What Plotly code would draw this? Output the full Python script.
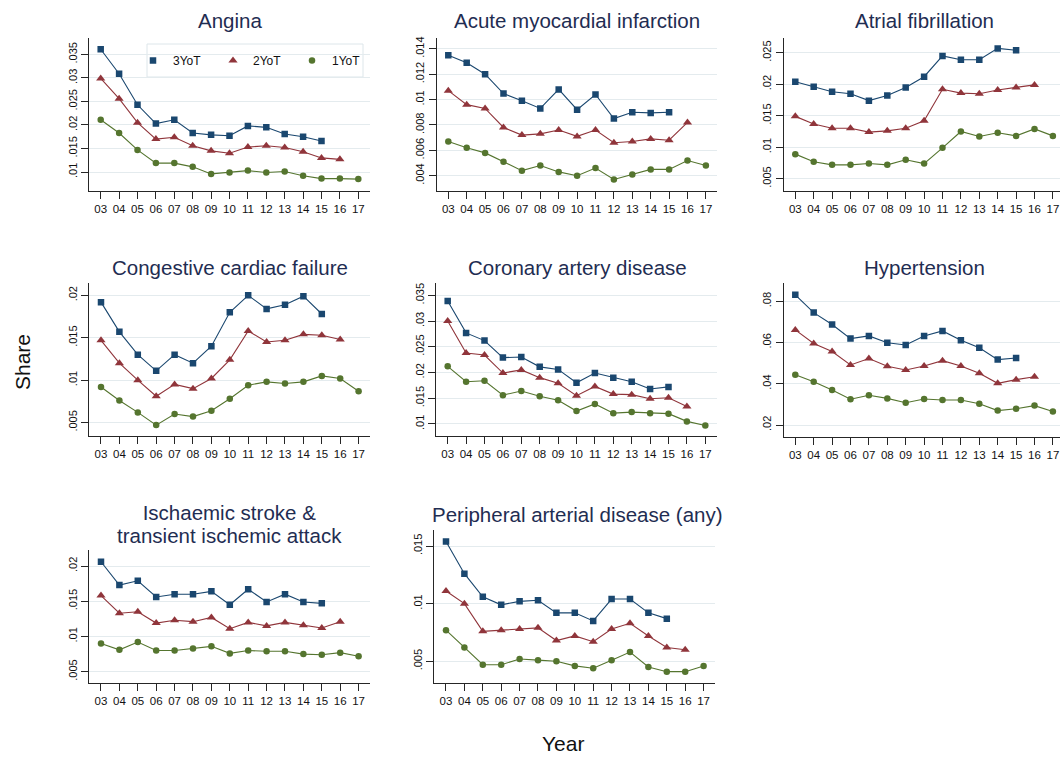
import plotly.graph_objects as go

# ---- data -------------------------------------------------------------
years = list(range(2003, 2018))
year_labels = ["03", "04", "05", "06", "07", "08", "09", "10",
               "11", "12", "13", "14", "15", "16", "17"]
series_names = ["3YoT", "2YoT", "1YoT"]

angina_3yot = [.0361, .0309, .0243, .0203, .0211, .0183, .0179, .0177, .0198, .0195, .0181, .0175, .0166]
angina_2yot = [.0299, .0256, .0205, .0170, .0174, .0156, .0145, .0140, .0153, .0156, .0152, .0143, .0130, .0127]
angina_1yot = [.0211, .0183, .0147, .0119, .0119, .0111, .0096, .0099, .0103, .0099, .0101, .0092, .0086, .0086, .0085]

ami_3yot = [.0135, .0129, .0120, .01047, .0099, .0093, .0108, .0092, .0104, .0085, .0090, .00895, .0090]
ami_2yot = [.0107, .0096, .0093, .0078, .0072, .0073, .0076, .0071, .0076, .0066, .0067, .0069, .0068, .0082]
ami_1yot = [.0067, .0062, .0058, .0051, .0044, .0048, .0043, .0040, .0046, .0037, .0041, .0045, .0045, .0052, .0048]

af_3yot = [.0204, .0196, .0188, .0185, .0174, .0182, .0195, .0212, .0245, .0239, .0239, .0257, .0254]
af_2yot = [.0149, .0137, .0130, .0130, .0124, .0126, .0130, .0142, .0192, .0186, .0185, .0191, .0195, .0199]
af_1yot = [.0089, .0077, .0072, .0072, .0074, .0072, .0080, .0074, .0099, .0125, .0117, .0123, .0118, .0129, .0118]

ccf_3yot = [.0192, .0157, .0130, .0111, .0130, .0120, .0140, .0180, .0200, .0184, .0189, .0199, .0178]
ccf_2yot = [.0147, .0120, .0100, .0081, .0095, .0090, .0102, .0124, .0158, .0145, .0147, .0154, .0153, .0148]
ccf_1yot = [.0092, .0076, .0062, .0047, .0060, .0057, .0064, .0078, .0094, .0098, .0096, .0098, .0105, .0102, .0087]

cad_3yot = [.0339, .0277, .0262, .0229, .0230, .0211, .0206, .0180, .0199, .0190, .0182, .0168, .0172]
cad_2yot = [.0300, .0238, .0234, .0199, .0205, .0190, .0179, .0155, .0173, .0158, .0157, .0149, .0151, .0134]
cad_1yot = [.0212, .0182, .0184, .0156, .0164, .0154, .0146, .0125, .0139, .0121, .0123, .0121, .0120, .0105, .0097]

htn_3yot = [.0831, .0745, .0687, .0619, .0632, .0599, .0588, .0632, .0656, .0611, .0574, .0517, .0525]
htn_2yot = [.0661, .0595, .0556, .0491, .0522, .0485, .0467, .0486, .0512, .0486, .0451, .0402, .0420, .0434]
htn_1yot = [.0444, .0410, .0370, .0325, .0344, .0329, .0308, .0326, .0321, .0321, .0303, .0270, .0279, .0294, .0265]

stroke_3yot = [.0206, .0173, .0179, .0156, .0160, .0160, .0164, .0145, .0167, .0149, .0160, .0149, .0147]
stroke_2yot = [.0158, .0133, .0135, .0119, .0123, .0121, .0127, .0111, .0120, .0115, .0120, .0116, .0112, .0121]
stroke_1yot = [.0090, .0081, .0092, .0080, .0080, .0083, .0086, .0076, .0080, .0079, .0079, .0075, .0074, .0077, .0072]

pad_3yot = [.0154, .0126, .0106, .0099, .0102, .0103, .0092, .0092, .0085, .0104, .0104, .0092, .0087]
pad_2yot = [.0111, .0100, .0076, .0077, .0078, .0079, .0068, .0072, .0067, .0078, .0083, .0072, .0062, .0060]
pad_1yot = [.0077, .0062, .0047, .0047, .0052, .0051, .0050, .0046, .0044, .0051, .0058, .0045, .0041, .0041, .0046]

panel_titles = ["Angina", "Acute myocardial infarction", "Atrial fibrillation",
                "Congestive cardiac failure", "Coronary artery disease", "Hypertension",
                ["Ischaemic stroke &", "transient ischemic attack"],
                "Peripheral arterial disease (any)"]

angina_ticks = [.01, .015, .02, .025, .03, .035]
ami_ticks = [.004, .006, .008, .01, .012, .014]
af_ticks = [.005, .01, .015, .02, .025]
ccf_ticks = [.005, .01, .015, .02]
cad_ticks = [.01, .015, .02, .025, .03, .035]
htn_ticks = [.02, .04, .06, .08]
stroke_ticks = [.005, .01, .015, .02]
pad_ticks = [.005, .01, .015]

panel_series = [
    (angina_3yot, angina_2yot, angina_1yot),
    (ami_3yot, ami_2yot, ami_1yot),
    (af_3yot, af_2yot, af_1yot),
    (ccf_3yot, ccf_2yot, ccf_1yot),
    (cad_3yot, cad_2yot, cad_1yot),
    (htn_3yot, htn_2yot, htn_1yot),
    (stroke_3yot, stroke_2yot, stroke_1yot),
    (pad_3yot, pad_2yot, pad_1yot),
]
panel_ticks = [angina_ticks, ami_ticks, af_ticks, ccf_ticks,
               cad_ticks, htn_ticks, stroke_ticks, pad_ticks]

# ---- layout geometry (pixels) ----------------------------------------
W, H = 1060, 758
UNIT = 18.4          # pixels per year
PAD_L = 0.63         # years of padding either side of the first/last year
SPAN = 14 + 2 * PAD_L

# x position of the first year, plot top, plot bottom, y range
panel_geom = [
    (100.7, 37.5, 190.7, (.00603, .0386)),
    (448.3, 37.5, 190.7, (.00282, .01489)),
    (795.3, 37.5, 190.7, (.00309, .02743)),
    (101.0, 283.3, 436.3, (.00338, .02142)),
    (447.7, 283.3, 436.3, (.0076, .03734)),
    (795.3, 283.3, 436.7, (.01433, .0887)),
    (101.0, 550.0, 682.7, (.00344, .02227)),
    (446.0, 530.0, 683.3, (.00309, .01639)),
]
title_centers = [(229.5, 20.5), (577, 20.5), (924, 20.5),
                 (229.5, 267), (577, 267), (924, 267),
                 (229.5, 523.5), (577, 514.5)]

colors = ["#1a476f", "#90353b", "#55752f"]
symbols = ["square", "triangle-up", "circle"]
msizes = [6.5, 8, 6.5]
FONT = "Liberation Sans, Arial, sans-serif"
TITLE_COLOR = "#1f2d52"
TITLE_SIZE = 20.5
LINE_GAP = 23        # spacing between the lines of a two-line title
AXIS_COLOR = "#262626"
GRID_COLOR = "#e4ebee"


def fmt_tick(v):
    s = ("%g" % v)
    return s[1:] if s.startswith("0.") else s


def title_text(title):
    if not isinstance(title, list):
        return title, TITLE_SIZE
    # the base size sets the line spacing (1.3em); each line keeps the title size
    inner = "<br>".join('<span style="font-size:%gpx">%s</span>' % (TITLE_SIZE, t)
                        for t in title)
    return inner, LINE_GAP / 1.3


fig = go.Figure()
layout = dict(
    width=W, height=H,
    margin=dict(l=0, r=0, t=0, b=0),
    paper_bgcolor="white", plot_bgcolor="white",
    font=dict(family=FONT, color="#111111"),
    showlegend=True,
)

annotations = []
for i, (series, ticks, geom) in enumerate(zip(panel_series, panel_ticks, panel_geom)):
    x03, top, bottom, yrange = geom
    left = x03 - PAD_L * UNIT
    right = left + SPAN * UNIT
    xr_lo = years[0] - PAD_L
    xr_hi = years[-1] + PAD_L
    if right > W:
        xr_hi = years[0] + (W - x03) / UNIT
        right = W
    n = "" if i == 0 else str(i + 1)
    xa, ya = "x" + n, "y" + n
    layout["xaxis" + n] = dict(
        domain=[left / W, right / W], anchor=ya,
        range=[xr_lo, xr_hi], tickmode="array",
        tickvals=years, ticktext=year_labels, tickangle=0,
        showgrid=False, zeroline=False, showline=True,
        linecolor=AXIS_COLOR, linewidth=1,
        ticks="outside", ticklen=7, tickcolor=AXIS_COLOR, tickwidth=1,
        tickfont=dict(size=11.5, color="#111111", family=FONT),
    )
    layout["yaxis" + n] = dict(
        domain=[1 - bottom / H, 1 - top / H], anchor=xa,
        range=list(yrange), tickmode="array",
        tickvals=ticks, ticktext=[fmt_tick(t) for t in ticks], tickangle=-90,
        showgrid=True, gridcolor=GRID_COLOR, gridwidth=1,
        zeroline=False, showline=True, linecolor=AXIS_COLOR, linewidth=1,
        ticks="outside", ticklen=7, tickcolor=AXIS_COLOR, tickwidth=1,
        tickfont=dict(size=11, color="#111111", family=FONT),
    )
    for k, vals in enumerate(series):
        fig.add_trace(go.Scatter(
            x=years[:len(vals)], y=vals, xaxis=xa, yaxis=ya,
            mode="lines+markers", name=series_names[k], showlegend=False,
            line=dict(color=colors[k], width=1.1),
            marker=dict(symbol=symbols[k], size=msizes[k], color=colors[k]),
        ))
    # panel title
    cx, cy = title_centers[i]
    text, base_size = title_text(panel_titles[i])
    annotations.append(dict(
        text=text, xref="paper", yref="paper",
        x=cx / W, y=1 - cy / H,
        xanchor="center", yanchor="middle", showarrow=False,
        font=dict(size=base_size, color=TITLE_COLOR, family=FONT),
    ))

# legend entries (marker only), one legend per key inside a framed box
legend_marker_x = [153, 233, 312]
legend_box = (147, 44, 363, 77)
legend_ids = ["legend", "legend2", "legend3"]
for k in range(3):
    fig.add_trace(go.Scatter(
        x=[None], y=[None], mode="markers", name=series_names[k],
        legend=legend_ids[k], showlegend=True,
        marker=dict(symbol=symbols[k], size=msizes[k], color=colors[k]),
    ))
    layout[legend_ids[k]] = dict(
        x=(legend_marker_x[k] - 20) / W, xanchor="left",
        y=1 - ((legend_box[1] + legend_box[3]) / 2) / H, yanchor="middle",
        bgcolor="rgba(0,0,0,0)", borderwidth=0,
        font=dict(size=12, color="#111111", family=FONT),
    )

layout["shapes"] = [dict(
    type="rect", xref="paper", yref="paper", layer="between",
    x0=legend_box[0] / W, x1=legend_box[2] / W,
    y0=1 - legend_box[3] / H, y1=1 - legend_box[1] / H,
    fillcolor="white", line=dict(color="#dde6ea", width=1),
)]

# shared axis titles
annotations.append(dict(text="Share", xref="paper", yref="paper",
                        x=23 / W, y=1 - 362 / H, textangle=-90,
                        xanchor="center", yanchor="middle", showarrow=False,
                        font=dict(size=21, color="#111111", family=FONT)))
annotations.append(dict(text="Year", xref="paper", yref="paper",
                        x=563 / W, y=1 - 743 / H,
                        xanchor="center", yanchor="middle", showarrow=False,
                        font=dict(size=21, color="#111111", family=FONT)))
layout["annotations"] = annotations

fig.update_layout(**layout)
fig.write_html("out.html")
